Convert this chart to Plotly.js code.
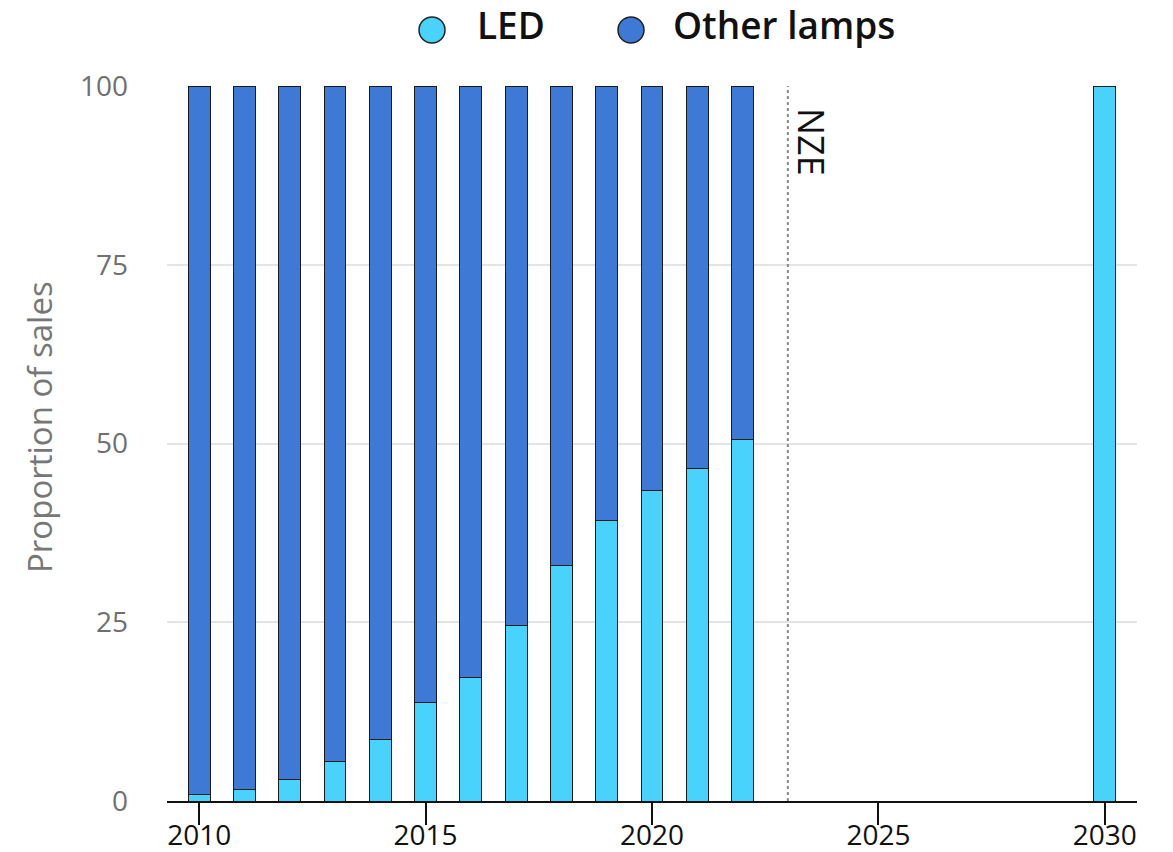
<!DOCTYPE html>
<html>
<head>
<meta charset="utf-8">
<script src="https://cdn.plot.ly/plotly-3.0.1.min.js"></script>
<style>html,body{margin:0;padding:0;background:#fff;}#chart{width:1173px;height:852px;}</style>
</head>
<body>
<div id="chart"></div>
<script>
const years = [2010, 2011, 2012, 2013, 2014, 2015, 2016, 2017, 2018, 2019, 2020, 2021, 2022, 2030];
const ledShare = [0.9, 1.6, 3.0, 5.5, 8.6, 13.8, 17.3, 24.6, 32.9, 39.2, 43.4, 46.5, 50.6, 100];
const otherShare = [99.1, 98.4, 97.0, 94.5, 91.4, 86.2, 82.7, 75.4, 67.1, 60.8, 56.6, 53.5, 49.4, 0];
const seriesNames = ['LED', 'Other lamps'];
const seriesColors = ['#48D2FC', '#3D79D5'];
const yTicks = [0, 25, 50, 75, 100];
const xTicks = [2010, 2015, 2020, 2025, 2030];
const nzeYear = 2023;
const nzeLabel = 'NZE';
const yTitle = 'Proportion of sales';

const FONT = '"Open Sans", "DejaVu Sans", sans-serif';
const L = 167, R = 36, T = 86, B = 51, W = 1173, H = 852;
const pw = W - L - R, ph = H - T - B;
const px = (x) => (x - L) / pw;          // pixel -> paper x
const py = (y) => 1 + (T - y) / ph;       // pixel -> paper y

const traces = [
  {type: 'bar', x: years, y: ledShare, name: seriesNames[0], width: 0.48,
   marker: {color: seriesColors[0], line: {color: '#1a1a1a', width: 1}}, showlegend: false},
  {type: 'bar', x: years, y: otherShare, name: seriesNames[1], width: 0.48,
   marker: {color: seriesColors[1], line: {color: '#1a1a1a', width: 1}}, showlegend: false}
];

const legendCircles = [
  {cx: 432, cy: 30, color: seriesColors[0]},
  {cx: 631, cy: 30, color: seriesColors[1]}
];
const legendTexts = [
  {x: 475, y: 25, text: seriesNames[0]},
  {x: 671, y: 25, text: seriesNames[1]}
];

const shapes = [
  {type: 'line', xref: 'x', yref: 'y', x0: nzeYear, x1: nzeYear, y0: 0, y1: 100,
   line: {color: '#8a8a8a', width: 2, dash: 'dot'}, layer: 'above'}
];
legendCircles.forEach(c => shapes.push({
  type: 'circle', xref: 'paper', yref: 'paper', xsizemode: 'pixel', ysizemode: 'pixel',
  xanchor: px(c.cx), yanchor: py(c.cy), x0: -13, x1: 13, y0: -13, y1: 13,
  fillcolor: c.color, line: {color: '#222', width: 1.5}
}));

const annotations = [
  {xref: 'x', yref: 'y', x: nzeYear, y: 92.2, xshift: 23, text: nzeLabel, textangle: 90,
   showarrow: false, xanchor: 'center', yanchor: 'middle',
   font: {family: FONT, size: 36, color: '#111'}},
  {xref: 'paper', yref: 'paper', x: px(39), y: py(427), text: yTitle, textangle: -90,
   showarrow: false, xanchor: 'center', yanchor: 'middle',
   font: {family: FONT, size: 33, color: '#777'}}
];
legendTexts.forEach(t => annotations.push({
  xref: 'paper', yref: 'paper', x: px(t.x), y: py(t.y), text: t.text, showarrow: false,
  xanchor: 'left', yanchor: 'middle', font: {family: FONT, size: 37, color: '#111', weight: 600}
}));

const layout = {
  width: W, height: H,
  margin: {l: L, r: R, t: T, b: B, pad: 0},
  paper_bgcolor: '#fff', plot_bgcolor: '#fff',
  barmode: 'stack',
  showlegend: false,
  font: {family: FONT},
  xaxis: {
    range: [2009.29, 2030.71], tickvals: xTicks, ticktext: xTicks.map(String),
    showgrid: false, zeroline: false,
    showline: true, linecolor: '#111', linewidth: 2,
    ticks: 'outside', ticklen: 22, tickwidth: 2, tickcolor: '#111',
    ticklabelstandoff: -14,
    tickfont: {family: FONT, size: 28, color: '#111'}
  },
  yaxis: {
    range: [0, 100], tickvals: yTicks, ticktext: yTicks.map(String),
    showgrid: true, gridcolor: '#e4e4e4', gridwidth: 2, zeroline: false,
    showline: false, ticks: '', ticklabelstandoff: 38,
    tickfont: {family: FONT, size: 28, color: '#707070'}
  },
  shapes: shapes,
  annotations: annotations
};

Plotly.newPlot('chart', traces, layout, {displayModeBar: false, staticPlot: true});
</script>
</body>
</html>
